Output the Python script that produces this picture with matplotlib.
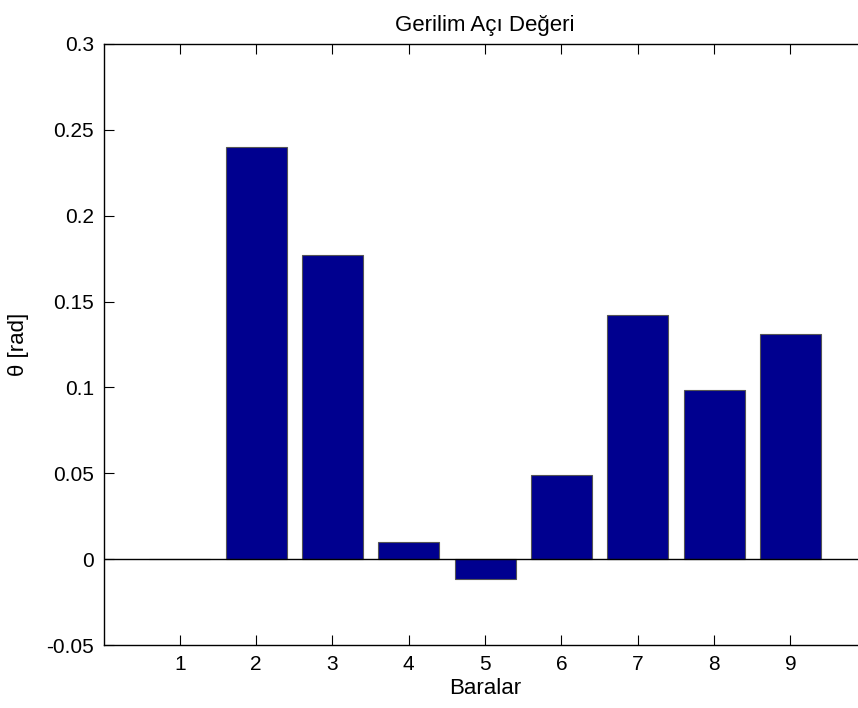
import numpy as np
import matplotlib
matplotlib.use("Agg")
import matplotlib.pyplot as plt

plt.rcParams['font.family'] = ['Liberation Sans', 'DejaVu Sans']

# bus voltage angles
baralar = [1, 2, 3, 4, 5, 6, 7, 8, 9]
theta = [0.0, 0.2397, 0.1771, 0.0103, -0.0114, 0.0491, 0.1422, 0.0985, 0.1312]
yticks = [-0.05, 0, 0.05, 0.1, 0.15, 0.2, 0.25, 0.3]
ytick_labels = ['-0.05', '0', '0.05', '0.1', '0.15', '0.2', '0.25', '0.3']

fig = plt.figure(figsize=(8.58, 7.08), dpi=100)
# axes runs a little past the right border like in the original screenshot
ax = fig.add_axes([103.5/858, 1 - 645.3/708, 763.2/858, 601.6/708])

ax.bar(baralar, theta, width=0.8, color='#00008F', edgecolor='#555555', linewidth=0.8, zorder=2)
ax.axhline(0, color='black', linewidth=1.0, zorder=3)

ax.set_xlim(0, 10)
ax.set_ylim(-0.05, 0.3)
ax.set_xticks(baralar)
ax.set_yticks(yticks)
ax.set_yticklabels(ytick_labels)
ax.tick_params(direction='in', length=7, width=0.8, top=True, right=False, labelsize=15, pad=7)
ax.spines['right'].set_visible(False)
for s in ax.spines.values():
    s.set_linewidth(1.0)

ax.set_title('Gerilim Açı Değeri', fontsize=16, pad=9)
ax.set_xlabel('Baralar', fontsize=16, labelpad=3)
ax.set_ylabel('θ [rad]', fontsize=16, labelpad=12)

fig.savefig('out.png', dpi=100)
